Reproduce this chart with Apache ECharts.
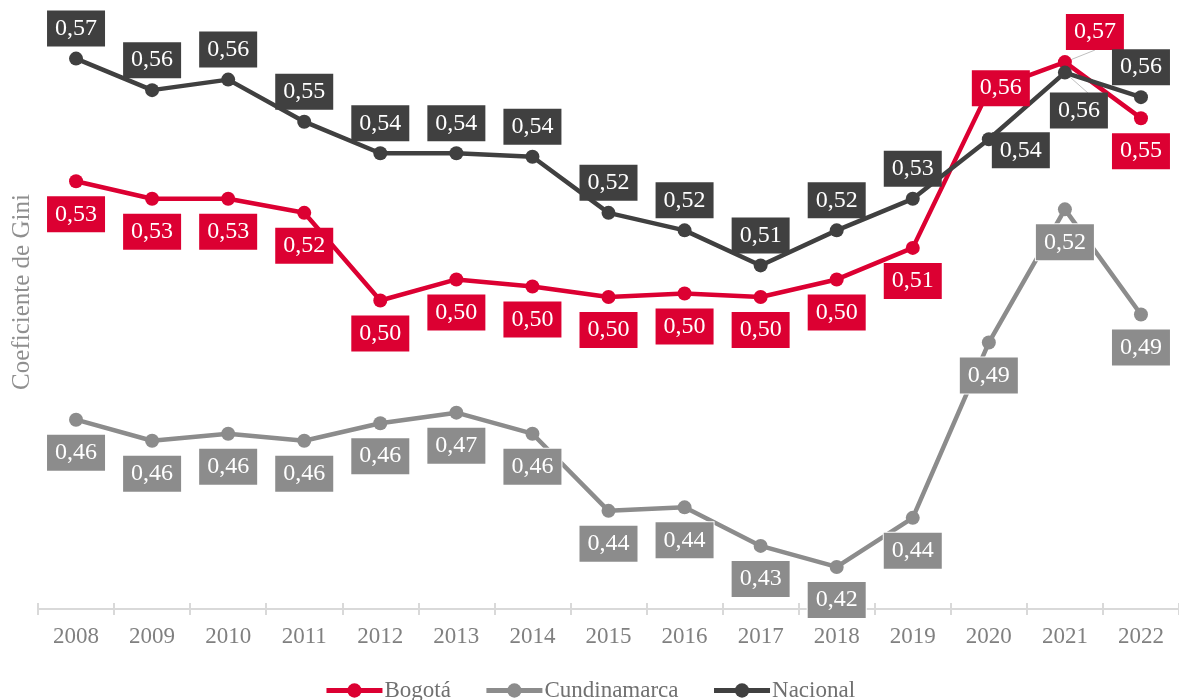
<!DOCTYPE html>
<html>
<head>
<meta charset="utf-8">
<script src="https://cdn.jsdelivr.net/npm/echarts@6/dist/echarts.min.js"></script>
<style>
  html, body { margin: 0; padding: 0; background: #fff; }
  #main { width: 1179px; height: 700px; }
</style>
</head>
<body>
<div id="main"></div>
<script>
var years = ['2008','2009','2010','2011','2012','2013','2014','2015','2016','2017','2018','2019','2020','2021','2022'];
var bogota = [0.532, 0.527, 0.527, 0.523, 0.498, 0.504, 0.502, 0.499, 0.500, 0.499, 0.504, 0.513, 0.558, 0.566, 0.550];
var cundinamarca = [0.464, 0.458, 0.460, 0.458, 0.463, 0.466, 0.460, 0.438, 0.439, 0.428, 0.422, 0.436, 0.486, 0.524, 0.494];
var nacional = [0.567, 0.558, 0.561, 0.549, 0.540, 0.540, 0.539, 0.523, 0.518, 0.508, 0.518, 0.527, 0.544, 0.563, 0.556];

var FONT = 'Liberation Serif';

// etiquetas que no van en la posicion normal
var movedLabels = {
    'Bogotá': { 12: [12, -2], 13: [30, -30, true] },
    'Nacional': { 12: [32, 11], 13: [14, 38, true] }
};

function buildData(name, values) {
    var moved = movedLabels[name] || {};
    return values.map(function (v, i) {
        var item = { value: v };
        if (moved[i]) {
            item.label = { position: 'inside', offset: [moved[i][0], moved[i][1]] };
            if (moved[i][2]) {
                item.labelLine = { show: true, lineStyle: { color: '#bfbfbf', width: 1 } };
            }
        }
        return item;
    });
}

function makeSeries(name, values, color, pos, dist, border) {
    return {
        name: name,
        type: 'line',
        data: buildData(name, values),
        symbol: 'circle',
        symbolSize: 14,
        itemStyle: { color: color },
        lineStyle: { color: color, width: 4.5 },
        label: {
            show: true,
            position: pos,
            distance: dist,
            color: '#fff',
            fontFamily: FONT,
            fontSize: 24,
            lineHeight: 24,
            padding: [6, 8],
            backgroundColor: color,
            borderColor: border ? '#fff' : null,
            borderWidth: border ? 1 : 0,
            formatter: function (p) {
                return p.value.toFixed(2).replace('.', ',');
            }
        }
    };
}

var myChart = echarts.init(document.getElementById('main'));
var option = {
    animation: false,
    grid: { left: 38, right: 0, top: 13, bottom: 91 },
    legend: {
        data: ['Bogotá', 'Cundinamarca', 'Nacional'],
        left: 'center',
        top: 674,
        itemWidth: 56,
        itemHeight: 18,
        itemGap: 33,
        lineStyle: { width: 5 },
        textStyle: { fontFamily: FONT, fontSize: 23, color: '#707070', padding: [0, 0, 0, -3] }
    },
    graphic: [{
        type: 'text',
        x: 22,
        y: 292,
        rotation: Math.PI / 2,
        style: {
            text: 'Coeficiente de Gini',
            fontFamily: FONT,
            fontSize: 25,
            fill: '#8f8f8f',
            textAlign: 'center',
            textVerticalAlign: 'middle'
        }
    }],
    xAxis: [{
        type: 'category',
        data: years,
        boundaryGap: true,
        axisLine: { lineStyle: { color: '#d9d9d9', width: 2 } },
        axisTick: { show: true, length: 6, lineStyle: { color: '#d9d9d9', width: 2 } },
        axisLabel: { fontFamily: FONT, fontSize: 23, color: '#808080', margin: 16 }
    }, {
        type: 'category',
        data: years,
        position: 'bottom',
        boundaryGap: true,
        axisLine: { show: false },
        axisTick: { show: true, inside: true, length: 6, lineStyle: { color: '#d9d9d9', width: 2 } },
        axisLabel: { show: false }
    }],
    yAxis: {
        type: 'value',
        min: 0.41,
        max: 0.58,
        axisLine: { show: false },
        axisTick: { show: false },
        axisLabel: { show: false },
        splitLine: { show: false }
    },
    series: [
        makeSeries('Bogotá', bogota, '#dc0032', 'bottom', 8, false),
        makeSeries('Cundinamarca', cundinamarca, '#8c8c8c', 'bottom', 8, true),
        makeSeries('Nacional', nacional, '#404040', 'top', 5, false)
    ]
};
myChart.setOption(option);
</script>
</body>
</html>
